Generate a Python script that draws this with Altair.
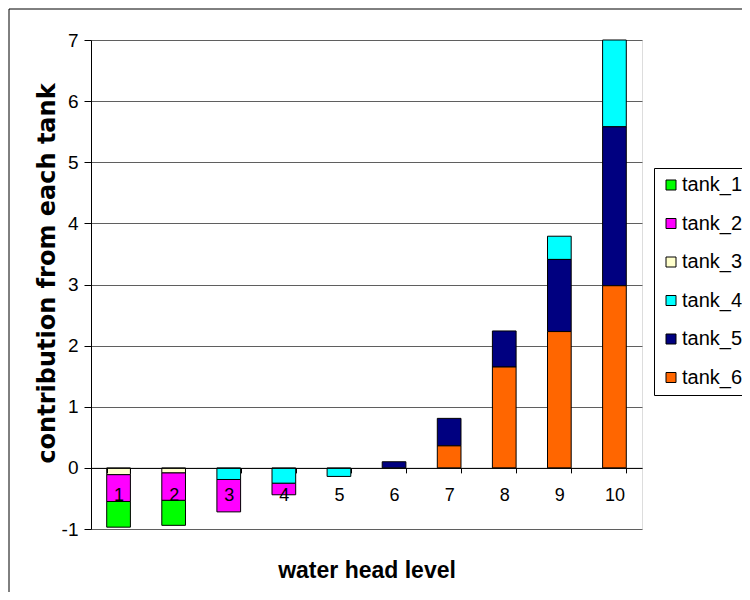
import altair as alt
import pandas as pd

levels = ["1", "2", "3", "4", "5", "6", "7", "8", "9", "10"]
tanks = ["tank_1", "tank_2", "tank_3", "tank_4", "tank_5", "tank_6"]
colors = ["#00FF00", "#FF00FF", "#FFFFCC", "#00FFFF", "#000080", "#FF6600"]

tank_1 = [-0.42, -0.41, 0, 0, 0, 0, 0, 0, 0, 0]
tank_2 = [-0.44, -0.45, -0.53, -0.19, 0, 0, 0, 0, 0, 0]
tank_3 = [-0.11, -0.08, 0, 0, 0, 0, 0, 0, 0, 0]
tank_4 = [0, 0, -0.19, -0.25, -0.14, 0, 0, 0, 0.38, 1.42]
tank_5 = [0, 0, 0, 0, 0, 0.10, 0.45, 0.59, 1.18, 2.60]
tank_6 = [0, 0, 0, 0, 0, 0, 0.36, 1.65, 2.23, 2.98]

series = [tank_1, tank_2, tank_3, tank_4, tank_5, tank_6]
rows = []
for ti, (name, vals) in enumerate(zip(tanks, series)):
    for lv, v in zip(levels, vals):
        if v != 0:
            rows.append({"level": lv, "tank": name, "idx": ti + 1, "value": v})
df = pd.DataFrame(rows)

W, H = 551, 489
ymin, ymax = -1, 7
zero_offset = -H * (0 - ymin) / (ymax - ymin)

frame = alt.Chart(alt.Data(values=[{}])).mark_rect(
    fill=None, stroke="black", strokeWidth=1
).encode(
    x=alt.value(-82), y=alt.value(-31), x2=alt.value(720), y2=alt.value(620)
)

bars = alt.Chart(df).mark_bar(stroke="black", strokeWidth=1).encode(
    x=alt.X(
        "level:N",
        sort=levels,
        scale=alt.Scale(paddingInner=0.57, paddingOuter=0.285),
        axis=alt.Axis(
            orient="bottom",
            offset=zero_offset,
            labelAngle=0,
            tickBand="extent",
            tickSize=5,
            labelPadding=14,
            labelFontSize=18,
            labelFont="Liberation Sans",
            labelColor="black",
            domainColor="black",
            tickColor="black",
            grid=False,
            zindex=1,
            title="water head level",
            titleFont="Liberation Sans",
            titleFontSize=23,
            titleFontWeight="bold",
            titleColor="black",
            titleY=110,
            titleBaseline="alphabetic",
        ),
    ),
    y=alt.Y(
        "value:Q",
        stack="zero",
        scale=alt.Scale(domain=[ymin, ymax], nice=False),
        axis=alt.Axis(
            values=list(range(ymin, ymax + 1)),
            labelExpr="'' + datum.value",
            tickSize=7,
            labelPadding=6,
            labelFontSize=19,
            labelFont="Liberation Sans",
            labelColor="black",
            domainColor="black",
            tickColor="black",
            gridColor="#5f5f5f",
            title="contribution from each tank",
            titleFont="DejaVu Sans",
            titleFontSize=24,
            titleFontWeight="bold",
            titleColor="black",
            titleX=-37,
            titleY=233,
            titleBaseline="alphabetic",
        ),
    ),
    color=alt.Color(
        "tank:N",
        scale=alt.Scale(domain=tanks, range=colors),
        legend=alt.Legend(
            title=None,
            orient="none",
            legendX=563,
            legendY=128,
            strokeColor="black",
            fillColor="white",
            padding=7,
            labelFont="Liberation Sans",
            labelFontSize=20,
            labelColor="black",
            labelOffset=1,
            symbolType="square",
            symbolSize=100,
            symbolStrokeColor="black",
            symbolStrokeWidth=1,
            symbolOpacity=1,
            rowPadding=18.5,
        ),
    ),
    order=alt.Order("idx:Q", sort="descending"),
)

chart = alt.layer(frame, bars).properties(
    width=W,
    height=H,
    autosize=alt.AutoSizeParams(type="none"),
    padding={"left": 83, "top": 32, "right": 100, "bottom": 63},
).configure_view(stroke="#808080", strokeWidth=1).configure(background="white")

chart.save("out.html", embed_options={"renderer": "svg", "actions": False})
